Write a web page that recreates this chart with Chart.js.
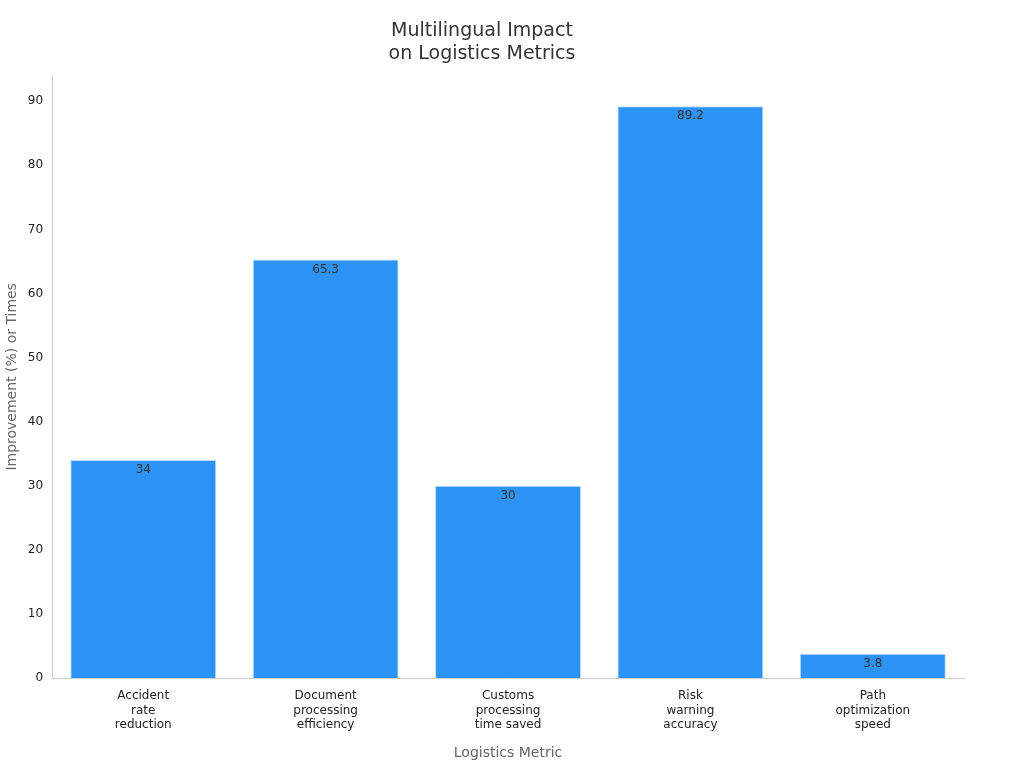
<!DOCTYPE html>
<html><head><meta charset="utf-8">
<script src="https://cdn.jsdelivr.net/npm/chart.js"></script>
<style>html,body{margin:0;background:#fff}#w{width:1024px;height:768px}</style>
</head><body><div id="w"><canvas id="c"></canvas></div>
<script>
const categories = [["Accident","rate","reduction"],["Document","processing","efficiency"],["Customs","processing","time saved"],["Risk","warning","accuracy"],["Path","optimization","speed"]];
const values = [34, 65.3, 30, 89.2, 3.8];
const font = "'DejaVu Sans', sans-serif";
const labelPlugin = {
  id: 'lbl',
  afterDatasetsDraw(chart) {
    const ctx = chart.ctx;
    const meta = chart.getDatasetMeta(0);
    ctx.save();
    ctx.font = "12px " + font;
    ctx.fillStyle = "#333";
    ctx.textAlign = "center";
    ctx.textBaseline = "top";
    meta.data.forEach((b, i) => ctx.fillText(String(values[i]), b.x, b.y + 4));
    ctx.restore();
  }
};
new Chart(document.getElementById('c'), {
  type: 'bar',
  data: { labels: categories, datasets: [{ data: values, backgroundColor: '#2e93f7', borderColor: '#b8d8f8', borderWidth: 1, barPercentage: 0.8, categoryPercentage: 1 }] },
  options: {
    responsive: true, maintainAspectRatio: false, animation: false,
    layout: { padding: { left: 0, right: 60, top: 10, bottom: 2 } },
    plugins: {
      legend: { display: false }, tooltip: { enabled: false },
      title: { display: true, text: ["Multilingual Impact", "on Logistics Metrics"], color: '#333', font: { family: font, size: 19, weight: 'normal' }, padding: { top: 10, bottom: 10 } }
    },
    scales: {
      x: {
        grid: { display: false, drawTicks: true }, border: { color: '#ccc' },
        ticks: { color: '#222', font: { family: font, size: 12 }, maxRotation: 0 },
        title: { display: true, text: 'Logistics Metric', color: '#666', font: { family: font, size: 14 }, padding: { top: 10 } }
      },
      y: {
        min: 0, max: 94,
        afterBuildTicks(s) { s.ticks = s.ticks.filter(t => t.value % 10 === 0); },
        grid: { display: false, drawTicks: true, tickLength: 6, color: '#999' }, border: { color: '#ccc' },
        ticks: { stepSize: 10, color: '#222', font: { family: font, size: 12 } },
        title: { display: true, text: 'Improvement (%) or Times', color: '#666', font: { family: font, size: 14 } }
      }
    }
  },
  plugins: [labelPlugin]
});
</script></body></html>
